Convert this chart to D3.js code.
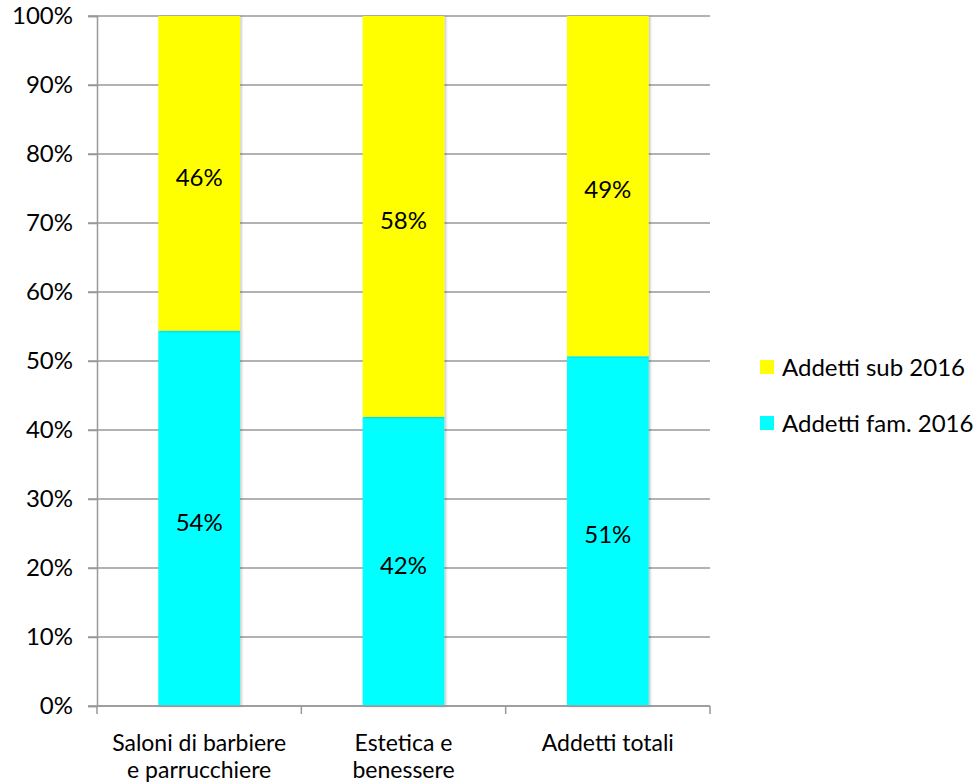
<!DOCTYPE html>
<html>
<head>
<meta charset="utf-8">
<script src="https://cdn.jsdelivr.net/npm/d3@7"></script>
<style>
  html, body { margin: 0; padding: 0; background: #fff; }
  svg { display: block; }
  text { font-family: Lato, "Open Sans", sans-serif; fill: #000; }
</style>
</head>
<body>
<svg id="chart" width="979" height="784"></svg>
<script>
// Share of employees by sector (stacked to 100%)
const categories = [["Saloni di barbiere", "e parrucchiere"], ["Estetica e", "benessere"], ["Addetti totali"]];
const seriesNames = ["Addetti fam. 2016", "Addetti sub 2016"];
const famValues = [0.544, 0.419, 0.507];
const subValues = [0.456, 0.581, 0.493];
const seriesColors = ["#00FFFF", "#FFFF00"];
const yTicks = [0, 0.1, 0.2, 0.3, 0.4, 0.5, 0.6, 0.7, 0.8, 0.9, 1.0];

const FS = "24px";
const svg = d3.select("#chart");
const margin = { left: 97, right: 269, top: 16, bottom: 78 };
const W = 979, H = 784;
const x0 = margin.left, x1 = W - margin.right;
const y0 = H - margin.bottom, y1 = margin.top;

const x = d3.scaleBand().domain(d3.range(categories.length)).range([x0, x1]).paddingInner(0.6).paddingOuter(0.3);
const y = d3.scaleLinear().domain([0, 1]).range([y0, y1]);

const defs = svg.append("defs");
const f = defs.append("filter").attr("id", "shadow").attr("x", "-10%").attr("y", "-5%").attr("width", "130%").attr("height", "110%");
f.append("feDropShadow").attr("dx", 1.5).attr("dy", 0.5).attr("stdDeviation", 1.2).attr("flood-color", "#000").attr("flood-opacity", 0.25);

// Horizontal gridlines
svg.append("g").selectAll("line").data(yTicks).join("line")
  .attr("x1", x0 - 9).attr("x2", x1)
  .attr("y1", d => y(d)).attr("y2", d => y(d))
  .attr("stroke", "#999").attr("stroke-width", 1.5);

// Y axis
const yAxis = d3.axisLeft(y).tickValues(yTicks).tickFormat(d3.format(".0%")).tickSize(9).tickPadding(15);
const gy = svg.append("g").attr("transform", `translate(${x0},0)`).call(yAxis);
gy.select(".domain").attr("stroke", "#999").attr("stroke-width", 1.5);
gy.selectAll(".tick line").attr("stroke", "#999").attr("stroke-width", 1.5);
gy.selectAll(".tick text").style("font-size", FS).style("font-family", "Lato, 'Open Sans', sans-serif").attr("fill", "#000");

// Stack data
const rows = categories.map((c, i) => ({ i, fam: famValues[i], sub: subValues[i] }));
const stack = d3.stack().keys(["fam", "sub"]);
const layers = stack(rows);

const bars = svg.append("g");
layers.forEach((layer, li) => {
  bars.append("g").selectAll("rect").data(layer).join("rect")
    .attr("x", d => x(d.data.i))
    .attr("width", x.bandwidth())
    .attr("y", d => y(d[1]))
    .attr("height", d => y(d[0]) - y(d[1]))
    .attr("fill", seriesColors[li])
    .attr("filter", "url(#shadow)");
});

// Value labels
const fmt = d3.format(".0%");
layers.forEach((layer) => {
  svg.append("g").selectAll("text").data(layer).join("text")
    .attr("x", d => x(d.data.i) + x.bandwidth() / 2)
    .attr("y", d => (y(d[0]) + y(d[1])) / 2 + 4)
    .attr("dy", "0.35em")
    .attr("text-anchor", "middle")
    .style("font-size", FS)
    .text(d => fmt(d[1] - d[0]));
});

// X axis
const xAxisScale = d3.scaleLinear().domain([0, categories.length]).range([x0, x1]);
const gx = svg.append("g");
gx.append("line").attr("x1", x0).attr("x2", x1).attr("y1", y0).attr("y2", y0).attr("stroke", "#999").attr("stroke-width", 1.5);
gx.selectAll("line.tk").data(d3.range(categories.length + 1)).join("line").attr("class", "tk")
  .attr("x1", d => xAxisScale(d)).attr("x2", d => xAxisScale(d))
  .attr("y1", y0).attr("y2", y0 + 8)
  .attr("stroke", "#999").attr("stroke-width", 1.5);
// Category labels, one text element per line
const catLines = [];
categories.forEach((lines, i) => lines.forEach((t, j) => catLines.push({ i, j, t })));
gx.selectAll("text.cat").data(catLines).join("text").attr("class", "cat")
  .attr("x", d => x(d.i) + x.bandwidth() / 2)
  .attr("y", d => y0 + 45 + d.j * 27)
  .attr("text-anchor", "middle")
  .style("font-size", "23px")
  .text(d => d.t);

// Legend
const legendItems = [{ name: seriesNames[1], color: seriesColors[1] }, { name: seriesNames[0], color: seriesColors[0] }];
const lg = svg.append("g").attr("transform", "translate(760,360)");
const li = lg.selectAll("g").data(legendItems).join("g").attr("transform", (d, i) => `translate(0,${i * 56})`);
li.append("rect").attr("width", 14).attr("height", 14).attr("fill", d => d.color);
li.append("text").attr("x", 22).attr("y", 16).style("font-size", FS).text(d => d.name);
</script>
</body>
</html>
